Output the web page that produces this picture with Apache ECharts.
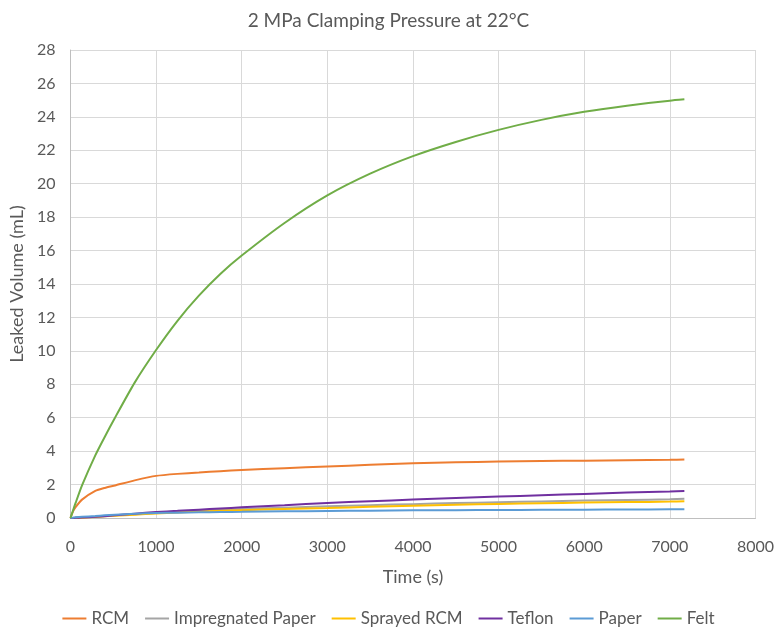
<!DOCTYPE html>
<html>
<head>
<meta charset="utf-8">
<script src="https://cdn.jsdelivr.net/npm/echarts@6/dist/echarts.min.js"></script>
<style>
  html, body { margin: 0; padding: 0; background: #fff; }
  #chart { width: 777px; height: 635px; }
</style>
</head>
<body>
<div id="chart"></div>
<script>
// time points (s)
var times = [0, 30, 60, 135, 290, 400, 520, 750, 1000, 1250, 1500, 1750, 2000, 2500, 3000, 3500, 4000, 4500, 5000, 5500, 6000, 6500, 7000, 7170];

// leaked volume (mL)
var rcm         = [0, 0.4, 0.65, 1.1, 1.62, 1.8, 1.95, 2.25, 2.52, 2.64, 2.72, 2.8, 2.87, 2.98, 3.08, 3.18, 3.27, 3.33, 3.38, 3.41, 3.43, 3.46, 3.48, 3.5];
var impregPaper = [0, 0, 0.01, 0.03, 0.08, 0.12, 0.16, 0.23, 0.3, 0.37, 0.43, 0.49, 0.54, 0.62, 0.7, 0.77, 0.83, 0.89, 0.94, 0.99, 1.04, 1.08, 1.12, 1.15];
var sprayedRcm  = [0, 0, 0.01, 0.02, 0.06, 0.1, 0.13, 0.2, 0.27, 0.33, 0.38, 0.43, 0.47, 0.54, 0.6, 0.67, 0.73, 0.79, 0.84, 0.88, 0.92, 0.95, 0.98, 1.0];
var teflon      = [0, 0, 0.01, 0.03, 0.07, 0.11, 0.16, 0.26, 0.36, 0.43, 0.5, 0.57, 0.64, 0.77, 0.9, 1.0, 1.1, 1.19, 1.28, 1.36, 1.44, 1.52, 1.58, 1.61];
var paper       = [0, 0.02, 0.04, 0.07, 0.12, 0.16, 0.2, 0.26, 0.3, 0.32, 0.34, 0.36, 0.37, 0.4, 0.42, 0.44, 0.46, 0.47, 0.48, 0.49, 0.5, 0.51, 0.52, 0.52];
var felt        = [0, 0.45, 0.9, 1.95, 3.75, 4.85, 6.0, 8.1, 10.05, 11.8, 13.3, 14.6, 15.7, 17.65, 19.3, 20.6, 21.65, 22.5, 23.22, 23.82, 24.3, 24.67, 24.97, 25.05];

var seriesNames = ['RCM', 'Impregnated Paper', 'Sprayed RCM', 'Teflon', 'Paper', 'Felt'];
var seriesData = [rcm, impregPaper, sprayedRcm, teflon, paper, felt];
var colors = ['#ED7D31', '#A5A5A5', '#FFC000', '#7030A0', '#5B9BD5', '#70AD47'];

function pairs(vals){
    var out = [];
    for (var i = 0; i < times.length; i++) {
        out.push([times[i], vals[i]]);
    }
    return out;
}

var series = [];
for (var k = 0; k < seriesNames.length; k++) {
    series.push({
        name: seriesNames[k],
        type: 'line',
        smooth: 0.2,
        symbol: 'none',
        lineStyle: { width: 2, color: colors[k] },
        itemStyle: { color: colors[k] },
        data: pairs(seriesData[k])
    });
}

var font = 'Lato, "Open Sans", sans-serif';
var option = {
    animation: false,
    textStyle: { fontFamily: font },
    title: {
        text: '2 MPa Clamping Pressure at 22°C',
        left: 'center',
        top: 6,
        textStyle: { fontFamily: font, fontSize: 19, fontWeight: 'normal', color: '#595959' }
    },
    legend: {
        data: seriesNames,
        bottom: 3,
        left: 'center',
        icon: 'rect',
        itemWidth: 24,
        itemHeight: 2,
        itemGap: 16,
        textStyle: { fontFamily: font, fontSize: 17, color: '#595959' }
    },
    grid: { left: 68, right: 20, top: 50, bottom: 117 },
    xAxis: {
        type: 'value',
        min: 0,
        max: 8000,
        interval: 1000,
        name: 'Time (s)',
        nameLocation: 'middle',
        nameGap: 50,
        nameTextStyle: { fontFamily: font, fontSize: 18, color: '#595959' },
        axisLine: { show: true, lineStyle: { color: '#BFBFBF' } },
        axisTick: { show: false },
        axisLabel: { fontFamily: font, fontSize: 16, color: '#595959', margin: 21, formatter: function(v){ return String(v); } },
        splitLine: { show: true, lineStyle: { color: '#D9D9D9' } }
    },
    yAxis: {
        type: 'value',
        min: 0,
        max: 28,
        interval: 2,
        name: 'Leaked Volume (mL)',
        nameLocation: 'middle',
        nameGap: 41,
        nameTextStyle: { fontFamily: font, fontSize: 18, color: '#595959' },
        axisLine: { show: true, lineStyle: { color: '#BFBFBF' } },
        axisTick: { show: false },
        axisLabel: { fontFamily: font, fontSize: 16, color: '#595959', margin: 15 },
        splitLine: { show: true, lineStyle: { color: '#D9D9D9' } }
    },
    series: series
};

var myChart = echarts.init(document.getElementById('chart'));
myChart.setOption(option);
</script>
</body>
</html>
